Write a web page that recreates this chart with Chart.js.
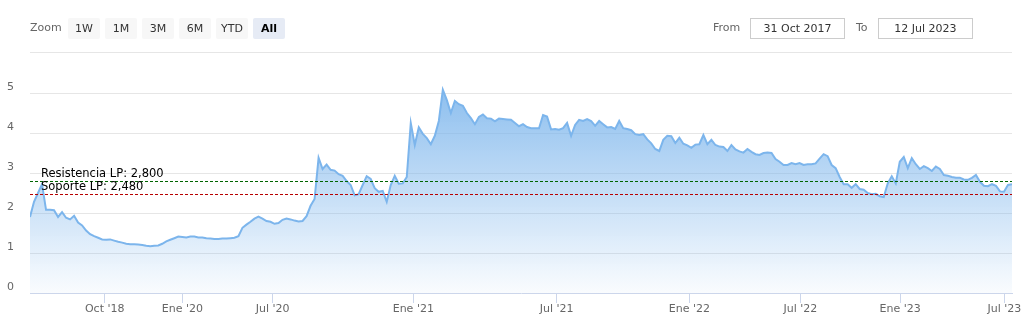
<!DOCTYPE html>
<html>
<head>
<meta charset="utf-8">
<script src="https://cdn.jsdelivr.net/npm/chart.js@4.4.0/dist/chart.umd.min.js"></script>
<style>
  body { margin: 0; background: #fff; font-family: "DejaVu Sans", sans-serif; }
  #wrap { position: relative; width: 1023px; height: 329px; overflow: hidden; }
  #chart { position: absolute; left: 0; top: 0; }
  .lbl { position: absolute; top: 21px; font-size: 11px; color: #666; }
  .btn { position: absolute; top: 18px; width: 32px; height: 21px; line-height: 21px; text-align: center;
         font-size: 11px; color: #333; background: #f7f7f7; border-radius: 2px; }
  .btn.sel { background: #e6ebf5; color: #000; font-weight: bold; }
  .box { position: absolute; top: 18px; width: 93px; height: 19px; line-height: 19px; border: 1px solid #ccc;
         text-align: center; font-size: 11px; color: #333; }
  #sep { position: absolute; left: 30px; top: 52px; width: 982px; height: 1px; background: #e6e6e6; }
</style>
</head>
<body>
<div id="wrap">
  <canvas id="chart" width="1023" height="329"></canvas>
  <div class="lbl" style="left:30px">Zoom</div>
  <div class="btn" style="left:68px">1W</div>
  <div class="btn" style="left:105px">1M</div>
  <div class="btn" style="left:142px">3M</div>
  <div class="btn" style="left:179px">6M</div>
  <div class="btn" style="left:216px">YTD</div>
  <div class="btn sel" style="left:253px">All</div>
  <div class="lbl" style="left:713px">From</div>
  <div class="box" style="left:750px">31 Oct 2017</div>
  <div class="lbl" style="left:856px">To</div>
  <div class="box" style="left:878px">12 Jul 2023</div>
  <div id="sep"></div>
</div>
<script>
// precio (ordinal axis: one value per point, evenly spaced)
var values = [
  1.9, 2.28, 2.5, 2.72, 2.08, 2.08, 2.07, 1.9, 2.02, 1.88,
  1.84, 1.93, 1.76, 1.69, 1.56, 1.47, 1.42, 1.38, 1.34, 1.33,
  1.34, 1.31, 1.28, 1.26, 1.23, 1.22, 1.22, 1.21, 1.2, 1.18,
  1.17, 1.18, 1.19, 1.23, 1.29, 1.33, 1.37, 1.41, 1.4, 1.39,
  1.41, 1.41, 1.39, 1.39, 1.37, 1.36, 1.35, 1.35, 1.36, 1.36,
  1.37, 1.38, 1.42, 1.63, 1.71, 1.78, 1.86, 1.91, 1.86, 1.8,
  1.78, 1.73, 1.75, 1.83, 1.86, 1.84, 1.81, 1.79, 1.8, 1.92,
  2.18, 2.35, 3.38, 3.1, 3.21, 3.08, 3.06, 2.97, 2.93, 2.8,
  2.7, 2.44, 2.47, 2.7, 2.92, 2.85, 2.62, 2.53, 2.55, 2.28,
  2.7, 2.93, 2.73, 2.74, 2.9, 4.25, 3.7, 4.14, 3.98, 3.87,
  3.72, 3.93, 4.3, 5.08, 4.82, 4.5, 4.8, 4.72, 4.68, 4.5,
  4.37, 4.22, 4.4, 4.46, 4.37, 4.36, 4.29, 4.36, 4.35, 4.34,
  4.33, 4.25, 4.17, 4.22, 4.15, 4.12, 4.12, 4.12, 4.45, 4.41,
  4.09, 4.1, 4.08, 4.12, 4.25, 3.93, 4.2, 4.33, 4.3, 4.35,
  4.3, 4.18, 4.3, 4.22, 4.14, 4.15, 4.1, 4.3, 4.12, 4.1,
  4.07, 3.97, 3.95, 3.97, 3.84, 3.74, 3.6, 3.55, 3.83, 3.93,
  3.92, 3.75, 3.88, 3.73, 3.69, 3.63, 3.71, 3.72, 3.95, 3.72,
  3.83, 3.7, 3.66, 3.65, 3.55, 3.7, 3.59, 3.54, 3.51, 3.6,
  3.53, 3.47, 3.45, 3.5, 3.51, 3.5, 3.35, 3.28, 3.2, 3.2,
  3.25, 3.22, 3.25, 3.2, 3.22, 3.22, 3.24, 3.36, 3.47, 3.42,
  3.2, 3.12, 2.9, 2.72, 2.72, 2.63, 2.72, 2.6, 2.58, 2.5,
  2.47, 2.48, 2.42, 2.4, 2.74, 2.92, 2.74, 3.28, 3.4, 3.12,
  3.37, 3.22, 3.1, 3.17, 3.12, 3.05, 3.16, 3.1, 2.95, 2.93,
  2.9, 2.88, 2.88, 2.84, 2.83, 2.88, 2.95, 2.78, 2.68, 2.67,
  2.72, 2.68, 2.54, 2.53, 2.7, 2.72
];
// where the date labels fall on the ordinal axis
var tickPos = [18.64, 38.0, 60.55, 95.63, 131.4, 164.5, 192.2, 217.1, 243.1];
var tickLabels = ["Oct '18", "Ene '20", "Jul '20", "Ene '21", "Jul '21", "Ene '22", "Jul '22", "Ene '23", "Jul '23"];
var yTicks = [0, 1, 2, 3, 4, 5];
var plotLines = [
  { value: 2.8, text: 'Resistencia LP: 2,800', color: '#006400' },
  { value: 2.48, text: 'Soporte LP: 2,480', color: '#b80000' }
];

var font = { family: 'DejaVu Sans', size: 11 };

var plotLinePlugin = {
  id: 'plotLines',
  afterDatasetsDraw: function(chart) {
    var ctx = chart.ctx, a = chart.chartArea, y = chart.scales.y;
    ctx.save();
    plotLines.forEach(function(p) {
      var py = Math.round(y.getPixelForValue(p.value)) + 0.5;
      ctx.strokeStyle = p.color;
      ctx.lineWidth = 1;
      ctx.setLineDash([3, 2]);
      ctx.beginPath();
      ctx.moveTo(a.left, py);
      ctx.lineTo(a.right, py);
      ctx.stroke();
    });
    ctx.setLineDash([]);
    ctx.fillStyle = '#000';
    ctx.font = '11.5px "DejaVu Sans"';
    ctx.textBaseline = 'alphabetic';
    plotLines.forEach(function(p) {
      var py = y.getPixelForValue(p.value);
      ctx.fillText(p.text, a.left + 11, py - 4);
    });
    ctx.restore();
  }
};

new Chart(document.getElementById('chart'), {
  type: 'line',
  data: {
    datasets: [{
      data: values.map(function(v, i) { return { x: i, y: v }; }),
      borderColor: '#7cb5ec',
      borderWidth: 2,
      pointRadius: 0,
      tension: 0,
      fill: 'origin',
      clip: { left: 0, top: 12, right: 0, bottom: 0 },
      backgroundColor: function(c) {
        var a = c.chart.chartArea;
        if (!a) return 'rgba(124,181,236,0.5)';
        var g = c.chart.ctx.createLinearGradient(0, a.top, 0, a.bottom);
        g.addColorStop(0, 'rgba(124,181,236,0.85)');
        g.addColorStop(1, 'rgba(124,181,236,0.04)');
        return g;
      }
    }]
  },
  options: {
    responsive: false,
    animation: false,
    layout: { padding: { top: 93, right: 11, left: 0, bottom: 0 } },
    plugins: { legend: { display: false }, tooltip: { enabled: false } },
    scales: {
      x: {
        type: 'linear',
        min: 0,
        max: values.length - 1,
        afterBuildTicks: function(s) { s.ticks = tickPos.map(function(v) { return { value: v }; }); },
        afterFit: function(s) { s.height = 36; },
        ticks: {
          autoSkip: false, maxRotation: 0, color: '#666', font: font, padding: 0,
          callback: function(v, i) { return tickLabels[i]; }
        },
        grid: { drawOnChartArea: false, tickLength: 10, color: '#ccd6eb' },
        border: { color: '#ccd6eb' }
      },
      y: {
        min: 0,
        max: 5,
        afterBuildTicks: function(s) { s.ticks = yTicks.map(function(v) { return { value: v }; }); },
        afterFit: function(s) { s.width = 30; },
        ticks: { color: '#666', font: font, padding: 16, labelOffset: -6 },
        grid: {
          drawTicks: false,
          color: function(c) { return c.tick && c.tick.value === 0 ? 'rgba(0,0,0,0)' : '#e6e6e6'; }
        },
        border: { display: false }
      }
    }
  },
  plugins: [plotLinePlugin]
});
</script>
</body>
</html>
